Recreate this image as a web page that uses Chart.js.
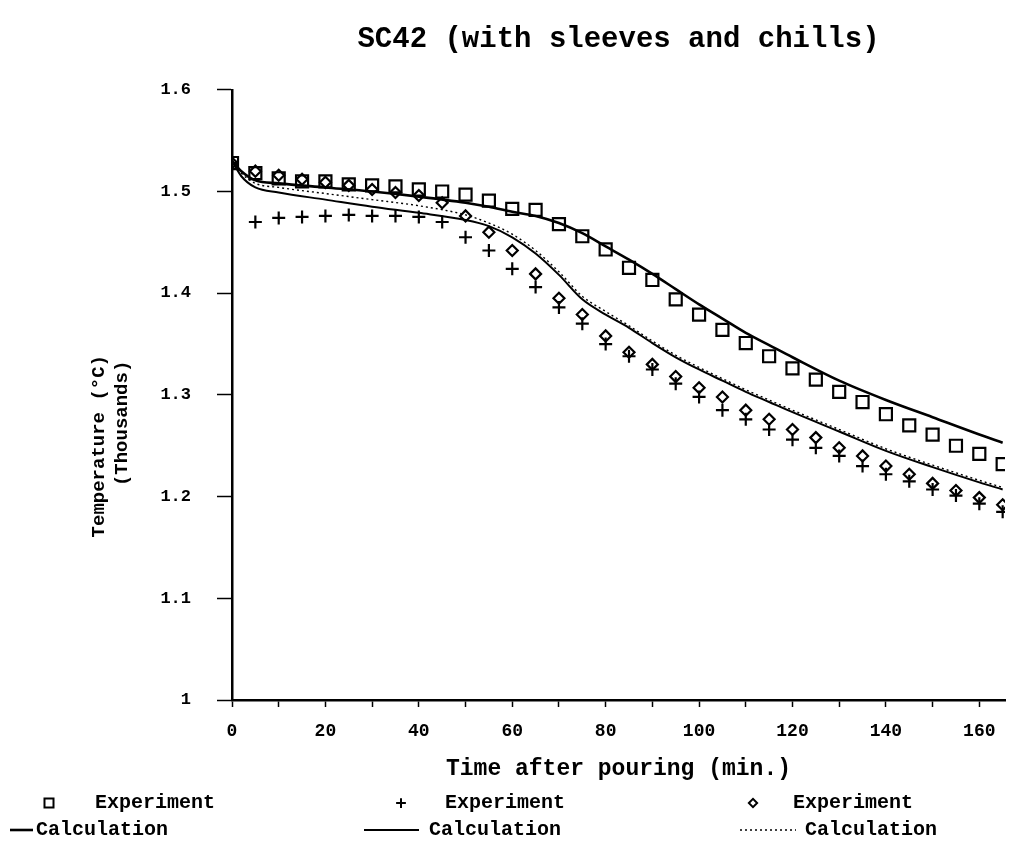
<!DOCTYPE html>
<html>
<head>
<meta charset="utf-8">
<script src="https://cdn.jsdelivr.net/npm/chart.js@4.4.1/dist/chart.umd.min.js"></script>
<style>
  html, body { margin: 0; padding: 0; background: #fff; }
  #wrap { width: 1022px; height: 849px; }
</style>
</head>
<body>
<div id="wrap"><canvas id="sc42Chart" width="1022" height="849"></canvas></div>
<script>
// measured points, every 5 min
var expTimes = [0, 5, 10, 15, 20, 25, 30, 35, 40, 45, 50, 55, 60, 65, 70, 75, 80, 85,
    90, 95, 100, 105, 110, 115, 120, 125, 130, 135, 140, 145, 150, 155, 160, 165];
var expSquare = [1.528, 1.518, 1.513, 1.510, 1.510, 1.507, 1.506, 1.505, 1.502, 1.500, 1.497, 1.491,
    1.483, 1.482, 1.468, 1.456, 1.443, 1.425, 1.413, 1.394, 1.379, 1.364, 1.351, 1.338,
    1.326, 1.315, 1.303, 1.293, 1.281, 1.270, 1.261, 1.250, 1.242, 1.232];
var expPlus = [1.528, 1.470, 1.474, 1.475, 1.476, 1.477, 1.476, 1.476, 1.475, 1.470, 1.455, 1.442,
    1.424, 1.406, 1.386, 1.370, 1.350, 1.338, 1.325, 1.311, 1.298, 1.285, 1.276, 1.266,
    1.256, 1.248, 1.240, 1.230, 1.222, 1.215, 1.207, 1.201, 1.193, 1.185];
var expDiamond = [1.528, 1.520, 1.516, 1.512, 1.509, 1.506, 1.502, 1.499, 1.496, 1.489, 1.476, 1.460,
    1.442, 1.419, 1.395, 1.379, 1.358, 1.342, 1.330, 1.318, 1.307, 1.298, 1.285, 1.276,
    1.266, 1.258, 1.248, 1.240, 1.230, 1.222, 1.213, 1.206, 1.199, 1.192];

// calculated curves
var calcTimes = [0, 2, 5, 10, 20, 30, 40, 50, 55, 60, 65, 70, 75, 80, 85, 90, 95, 100,
    105, 110, 115, 120, 130, 140, 150, 160, 165];
var calcSquare = [1.530, 1.520, 1.511, 1.508, 1.504, 1.500, 1.495, 1.489, 1.485, 1.480, 1.476, 1.469,
    1.459, 1.446, 1.433, 1.419, 1.404, 1.389, 1.375, 1.361, 1.349, 1.337, 1.314, 1.295,
    1.278, 1.261, 1.253];
var calcPlus = [1.530, 1.515, 1.504, 1.499, 1.492, 1.485, 1.479, 1.472, 1.466, 1.455, 1.439, 1.418,
    1.394, 1.379, 1.366, 1.351, 1.337, 1.325, 1.314, 1.303, 1.293, 1.283, 1.264, 1.245,
    1.229, 1.214, 1.207];
var calcDiamond = [1.530, 1.518, 1.508, 1.504, 1.498, 1.492, 1.486, 1.477, 1.469, 1.458, 1.442, 1.421,
    1.397, 1.382, 1.368, 1.353, 1.339, 1.327, 1.316, 1.305, 1.295, 1.285, 1.266, 1.247,
    1.231, 1.216, 1.209];

var yTicks = [1, 1.1, 1.2, 1.3, 1.4, 1.5, 1.6];
var xTicks = [0, 10, 20, 30, 40, 50, 60, 70, 80, 90, 100, 110, 120, 130, 140, 150, 160];

function pairs(xs, ys) {
    return xs.map(function (x, i) { return { x: x, y: ys[i] }; });
}

var MONO = '"Liberation Mono", "DejaVu Sans Mono", monospace';

function expSet(label, values, style, radius) {
    return {
        type: 'scatter', label: label, data: pairs(expTimes, values),
        pointStyle: style, pointRadius: radius, pointBorderWidth: 2.2,
        borderColor: '#000', backgroundColor: 'rgba(0,0,0,0)', showLine: false
    };
}

function calcSet(label, values, width, dash) {
    return {
        type: 'line', label: label, data: pairs(calcTimes, values),
        borderColor: '#000', borderWidth: width, borderDash: dash,
        pointRadius: 0, fill: false, cubicInterpolationMode: 'monotone'
    };
}

var datasets = [
    expSet('Experiment', expSquare, 'rect', 8.5),
    expSet('Experiment', expPlus, 'cross', 6.5),
    expSet('Experiment', expDiamond, 'rectRot', 5.5),
    calcSet('Calculation', calcSquare, 2.6, []),
    calcSet('Calculation', calcPlus, 2, []),
    calcSet('Calculation', calcDiamond, 1.4, [2, 3])
];

// legend in three columns, two rows, like the original print
var legendPlugin = {
    id: 'printLegend',
    afterDraw: function (chart) {
        var c = chart.ctx;
        var cols = [
            { sym: 49, txt: 95, lineFrom: 10, lineTo: 33, calcTxt: 36, exp: 0, calc: 3 },
            { sym: 401, txt: 445, lineFrom: 364, lineTo: 419, calcTxt: 429, exp: 1, calc: 4 },
            { sym: 753, txt: 793, lineFrom: 740, lineTo: 796, calcTxt: 805, exp: 2, calc: 5 }
        ];
        c.save();
        c.strokeStyle = '#000';
        c.font = 'bold 20px ' + MONO;
        c.textBaseline = 'middle';
        cols.forEach(function (col) {
            var e = datasets[col.exp];
            var l = datasets[col.calc];
            c.lineWidth = 2;
            c.fillStyle = 'rgba(0,0,0,0)';
            Chart.helpers.drawPoint(c, { pointStyle: e.pointStyle, radius: e.pointRadius * 0.75, rotation: 0, borderWidth: 2 }, col.sym, 803);
            c.fillStyle = '#000';
            c.fillText(e.label, col.txt, 803);
            c.beginPath();
            c.lineWidth = l.borderWidth;
            c.setLineDash(l.borderDash);
            c.moveTo(col.lineFrom, 830);
            c.lineTo(col.lineTo, 830);
            c.stroke();
            c.setLineDash([]);
            c.fillText(l.label, col.calcTxt, 830);
        });
        c.restore();
    }
};

var ctx = document.getElementById('sc42Chart').getContext('2d');
var sc42Chart = new Chart(ctx, {
    data: { datasets: datasets },
    plugins: [legendPlugin],
    options: {
        responsive: false,
        animation: false,
        layout: { padding: { left: 0, right: 17, top: 0, bottom: 66 } },
        plugins: {
            legend: { display: false },
            tooltip: { enabled: false },
            title: {
                display: true,
                fullSize: false,
                text: 'SC42 (with sleeves and chills)',
                color: '#000',
                font: { family: MONO, size: 29, weight: 'bold' },
                padding: { top: 22, bottom: 33 }
            }
        },
        scales: {
            x: {
                type: 'linear', min: 0, max: 165.5,
                afterBuildTicks: function (s) { s.ticks = xTicks.map(function (v) { return { value: v }; }); },
                afterFit: function (s) { s.height = 83; },
                grid: { drawOnChartArea: false, tickLength: 7, tickWidth: 1.5, tickColor: '#000' },
                border: { color: '#000', width: 2.5 },
                ticks: {
                    color: '#000', padding: 14, maxRotation: 0, autoSkip: false,
                    font: { family: MONO, size: 18, weight: 'bold' },
                    callback: function (v) { return v % 20 === 0 ? String(v) : ''; }
                },
                title: {
                    display: true, text: 'Time after pouring (min.)', color: '#000',
                    font: { family: MONO, size: 23, weight: 'bold' },
                    padding: { top: 0, bottom: 0 }
                }
            },
            y: {
                type: 'linear', min: 1, max: 1.6,
                afterBuildTicks: function (s) { s.ticks = yTicks.map(function (v) { return { value: v }; }); },
                afterFit: function (s) { s.width = 232; },
                grid: { drawOnChartArea: false, tickLength: 15, tickWidth: 1.5, tickColor: '#000' },
                border: { color: '#000', width: 2.5 },
                ticks: {
                    color: '#000', padding: 26,
                    font: { family: MONO, size: 17, weight: 'bold' },
                    callback: function (v) { return v === 1 ? '1' : v.toFixed(1); }
                },
                title: {
                    display: true,
                    // trailing blanks push the rotated lines down, as in the print
                    text: ['Temperature (\u00b0C)         ', '(Thousands)     '],
                    color: '#000',
                    font: { family: MONO, size: 19, weight: 'bold' },
                    padding: { top: 88, bottom: 0 }
                }
            }
        }
    }
});
</script>
</body>
</html>
